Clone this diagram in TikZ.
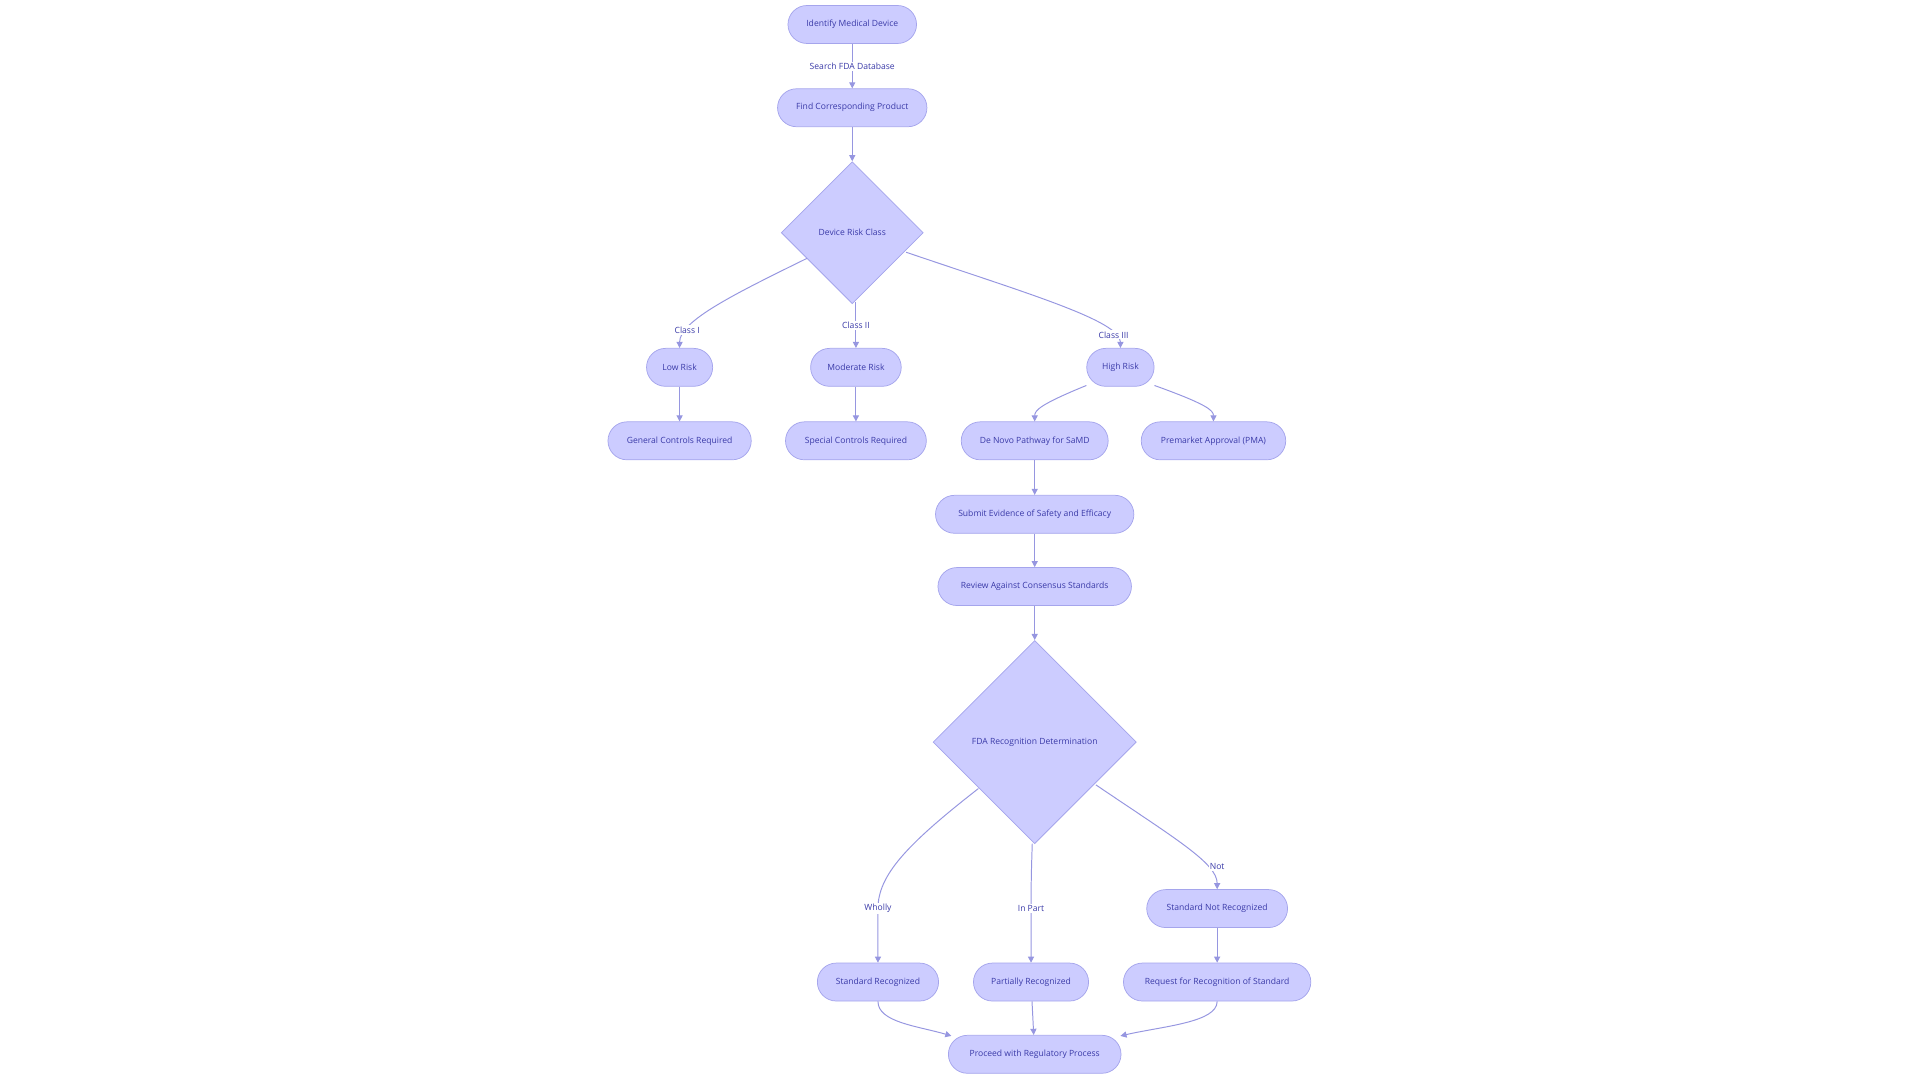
\documentclass[tikz,border=0pt]{standalone}
\usepackage{fontspec}
\setmainfont{Open Sans}
\usetikzlibrary{shapes.geometric,arrows.meta}
\definecolor{nfill}{HTML}{CCCCFF}
\definecolor{nline}{HTML}{A5A5EC}
\definecolor{ntext}{HTML}{3A3AA8}
\definecolor{eline}{HTML}{9696E0}
\tikzset{
 x=1pt,y=-1pt,
 box/.style={draw=nline,fill=nfill,rounded corners=15.5pt,minimum height=31pt,text=ntext,font=\fontsize{7}{8}\selectfont,inner xsep=0pt,line width=0.6pt},
 dia/.style={draw=nline,fill=nfill,diamond,aspect=1,inner sep=0pt,text=ntext,font=\fontsize{7}{8}\selectfont,line width=0.6pt},
 conn/.style={draw=eline,line width=0.8pt,-{Triangle[length=5pt,width=5pt]}},
 lab/.style={fill=white,text=ntext,font=\fontsize{7}{8}\selectfont,inner sep=1pt},
}
\begin{document}
\begin{tikzpicture}
\useasboundingbox (0,0) rectangle (1568,882);
\node[box,minimum width=105pt] (A) at (696,20) {Identify Medical Device};
\node[box,minimum width=122pt] (B) at (696,88) {Find Corresponding Product};
\node[dia,minimum size=116pt] (C) at (696,190) {Device Risk Class};
\node[box,minimum width=54pt] (D) at (555,300) {Low Risk};
\node[box,minimum width=74pt] (E) at (699,300) {Moderate Risk};
\node[box,minimum width=55pt] (F) at (915,300) {High Risk};
\node[box,minimum width=117pt] (G) at (555,360) {General Controls Required};
\node[box,minimum width=115pt] (H) at (699,360) {Special Controls Required};
\node[box,minimum width=120pt] (I) at (845,360) {De Novo Pathway for SaMD};
\node[box,minimum width=118pt] (J) at (991,360) {Premarket Approval (PMA)};
\node[box,minimum width=162pt] (K) at (845,420) {Submit Evidence of Safety and Efficacy};
\node[box,minimum width=158pt] (L) at (845,479) {Review Against Consensus Standards};
\node[dia,minimum size=166pt] (M) at (845,606) {FDA Recognition Determination};
\node[box,minimum width=115pt] (N) at (994,742) {Standard Not Recognized};
\node[box,minimum width=99pt] (O) at (717,802) {Standard Recognized};
\node[box,minimum width=94pt] (P) at (842,802) {Partially Recognized};
\node[box,minimum width=153pt] (Q) at (994,802) {Request for Recognition of Standard};
\node[box,minimum width=141pt] (R) at (845,861) {Proceed with Regulatory Process};

\draw[conn] (A) -- (B) node[lab,pos=0.5] (lA) {Search FDA Database};
\draw[conn] (B) -- (C);
\draw[conn] (659,211) .. controls (600,240) and (555,262) .. (D.north) node[lab,pos=0.78] (l1) {Class I};
\draw[conn] (699,247) -- (E.north) node[lab,pos=0.5] (l2) {Class II};
\draw[conn] (740,206) .. controls (840,240) and (915,262) .. (F.north) node[lab,pos=0.84] (l3) {Class III};
\draw[conn] (D) -- (G);
\draw[conn] (E) -- (H);
\draw[conn] (F.south west) ++(0,-1) .. controls (850,330) and (845,335) .. (I.north);
\draw[conn] (F.south east) ++(0,-1) .. controls (985,330) and (991,335) .. (J.north);
\draw[conn] (I) -- (K);
\draw[conn] (K) -- (L);
\draw[conn] (L) -- (M);
\draw[conn] (799,644) .. controls (740,690) and (717,715) .. (717,742) -- (O.north);
\node[lab] (lw) at (717,742) {Wholly};
\draw[conn] (843,689) .. controls (842,720) .. (P.north);
\node[lab] (lp) at (842,742) {In Part};
\draw[conn] (895,641) .. controls (960,685) and (994,705) .. (N.north);
\node[lab] (ln) at (994,708) {Not};
\draw[conn] (N) -- (Q);
\draw[conn] (O.south) .. controls (717,835) and (750,838) .. (777,846);
\draw[conn] (P) -- (R);
\draw[conn] (Q.south) .. controls (994,835) and (950,838) .. (915,846);
\end{tikzpicture}
\end{document}
